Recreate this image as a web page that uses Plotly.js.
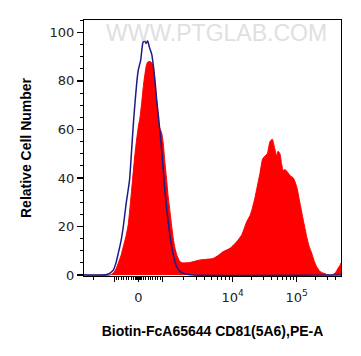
<!DOCTYPE html>
<html>
<head>
<meta charset="utf-8">
<script src="https://cdn.plot.ly/plotly-3.0.1.min.js"></script>
<style>html,body{margin:0;padding:0;background:#fff;}#chart{width:361px;height:356px;}</style>
</head>
<body>
<div id="chart"></div>
<script>
// x positions are in display (biexponential) channel units of the axis
const controlX = [0, 16, 22.7, 26, 29.3, 32, 34.3, 37, 39.3, 42, 45.5, 47.7, 49.3, 51, 52.7, 54.3, 56.7, 58.7, 60.3, 62, 63.7, 65.3, 67.7, 71, 72.7, 74.3, 77.7, 80, 82, 84, 86, 88, 90, 92.7, 96, 101, 109, 257];
const controlY = [0, 0, 0.2, 0.8, 2, 5, 9, 14, 20, 29, 39, 52, 62, 71, 79, 84.5, 88.6, 95.4, 96.8, 95.4, 96.5, 94, 91, 80, 72, 66, 51.5, 39, 30, 22.6, 16, 11, 7, 3.4, 1.5, 0.5, 0, 0];

const sampleX = [0, 26, 29.3, 32, 34.3, 37, 39.3, 42, 44.3, 46.5, 48.5, 51, 53, 54.3, 56, 57.7, 59.3, 61, 62.7, 64.3, 66, 67.7, 69.3, 71, 72.7, 74, 75.3, 77.7, 79.3, 81, 82.7, 84, 86, 88, 89.3, 91, 93, 96, 99, 106, 116, 123, 129, 134, 139, 146, 151, 154, 157.7, 160, 162.7, 166, 168, 171, 173, 176, 178.7, 181, 183.3, 186, 188.3, 190.3, 192.7, 194, 196, 197.5, 199.3, 201, 204.3, 206, 209.3, 212.7, 216, 219.3, 222.7, 225, 227.7, 230, 232.7, 236, 239.3, 243, 246, 249, 251, 253, 254.3, 256, 257];
const sampleY = [0, 0, 0.8, 2.5, 5, 8, 11.7, 16, 21, 30, 39, 50, 57, 61, 65, 71, 77.6, 83, 87, 88, 88, 87.5, 86, 79, 72, 66, 61, 58.5, 54, 46, 39, 33, 26, 19, 15, 11, 8, 5.5, 5, 5.2, 6.2, 6.5, 6.8, 8, 9.6, 11, 13, 14.4, 16.5, 19, 22, 24.5, 27, 32, 36, 42, 48, 49, 50, 55, 56, 53, 49, 51, 50, 46, 43, 43.5, 42, 41, 40, 36.4, 29.6, 22.6, 15.8, 12, 9, 6, 3.4, 1.5, 0.8, 0.2, 0, 0.2, 0.8, 2, 3, 4, 5];

const yTickVals = [0, 20, 40, 60, 80, 100];
const xMajorValues = [-1000, 0, 1000, 10000, 100000];
const xMajorLabels = [' ', '0', ' ', '10<sup>4</sup>', '10<sup>5</sup>'];

// biexponential display transform (value -> channel)
const ZERO = 54.4;
function T(v) {
  const s = Math.sign(v), a = Math.abs(v);
  let d;
  if (a <= 1000) d = 24.3 * a / 1000;
  else if (a <= 10000) d = 24.3 + 70 * Math.log10(a / 1000);
  else d = 94.3 + 64 * Math.log10(a / 10000);
  return ZERO + s * d;
}
const minorValues = [-2000];
for (let v = -900; v <= 900; v += 100) if (v !== 0) minorValues.push(v);
for (let v = -130; v <= 130; v += 10) minorValues.push(v);
for (let m = 2; m <= 9; m++) { minorValues.push(m * 1000); minorValues.push(m * 10000); }
[200000, 300000, 400000].forEach(v => minorValues.push(v));

const axisFont = {family: 'DejaVu Sans, Verdana, sans-serif', size: 13, color: '#222'};
const titleFont = {family: 'Liberation Sans, Arial, sans-serif', size: 14, color: '#000', weight: 'bold'};

const traces = [
  {x: sampleX, y: sampleY, type: 'scatter', mode: 'lines', fill: 'tozeroy',
   fillcolor: '#ff0000', line: {color: '#ff0000', width: 1, shape: 'spline', smoothing: 0.5}, hoverinfo: 'skip'},
  {x: controlX, y: controlY, type: 'scatter', mode: 'lines',
   line: {color: '#1c1c85', width: 1.5, shape: 'spline', smoothing: 0.5}, hoverinfo: 'skip'}
];

const layout = {
  width: 361, height: 356,
  margin: {l: 84, r: 20, t: 20, b: 80},
  paper_bgcolor: '#fff', plot_bgcolor: '#fff',
  showlegend: false,
  xaxis: {
    range: [0, 257], showgrid: false, zeroline: false,
    showline: true, mirror: true, linecolor: '#000', linewidth: 1,
    tickmode: 'array', tickvals: xMajorValues.map(T), ticktext: xMajorLabels,
    ticks: 'outside', ticklen: 5, tickwidth: 1, tickcolor: '#000', ticklabelstandoff: 4,
    minor: {tickmode: 'array', tickvals: minorValues.map(T), ticks: 'outside', ticklen: 3, tickwidth: 1, tickcolor: '#000', showgrid: false},
    tickfont: axisFont,
    title: {text: 'Biotin-FcA65644 CD81(5A6),PE-A', font: titleFont, standoff: 22}
  },
  yaxis: {
    range: [-0.4, 105.1], showgrid: false, zeroline: false,
    showline: true, mirror: true, linecolor: '#000', linewidth: 1,
    tickmode: 'array', tickvals: yTickVals,
    ticks: 'outside', ticklen: 6, tickwidth: 1.5, tickcolor: '#000',
    minor: {dtick: 5, ticks: 'outside', ticklen: 3, tickwidth: 1, tickcolor: '#000', showgrid: false},
    tickfont: axisFont,
    title: {text: 'Relative Cell Number', font: titleFont, standoff: 14}
  },
  annotations: [{
    text: 'WWW.PTGLAB.COM', xref: 'paper', yref: 'paper', x: 0.514, y: 0.951,
    xanchor: 'center', yanchor: 'middle', showarrow: false,
    font: {family: 'Liberation Sans, Arial, sans-serif', size: 23, color: '#e0e0e0'}
  }]
};

Plotly.newPlot('chart', traces, layout, {staticPlot: true, displayModeBar: false});
</script>
</body>
</html>
